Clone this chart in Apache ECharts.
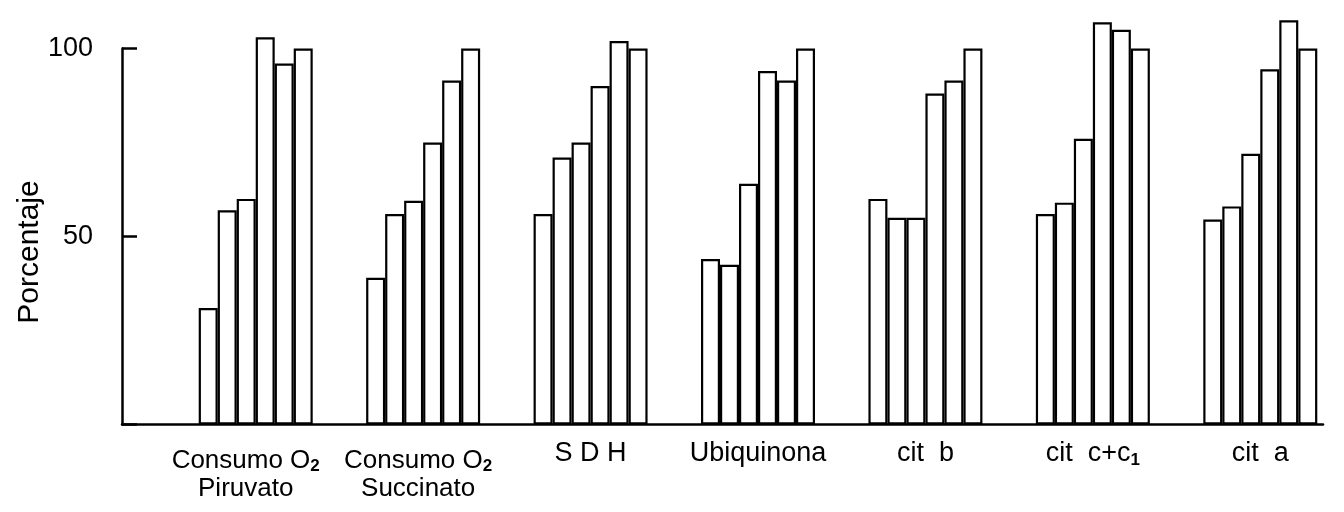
<!DOCTYPE html>
<html>
<head>
<meta charset="utf-8">
<script src="https://cdn.jsdelivr.net/npm/echarts@6/dist/echarts.min.js"></script>
<style>
  html, body { margin: 0; padding: 0; background: #fff; }
  #chart { width: 1344px; height: 512px; }
</style>
</head>
<body>
<div id="chart"></div>
<script>
// ---- data ----
var categories = ['Consumo O{s|2}\nPiruvato', 'Consumo O{s|2}\nSuccinato', 'S D H', 'Ubiquinona', 'cit  b', 'cit  c+c{s|1}', 'cit  a'];
var bar1 = [31, 39, 56, 44, 60, 56, 54.5];
var bar2 = [57, 56, 71, 42.5, 55, 59, 58];
var bar3 = [60, 59.5, 75, 64, 55, 76, 72];
var bar4 = [103, 75, 90, 94, 88, 107, 94.5];
var bar5 = [96, 91.5, 102, 91.5, 91.5, 105, 107.5];
var bar6 = [100, 100, 100, 100, 100, 100, 100];
var yTicks = [0, 50, 100];
var yName = 'Porcentaje';

var seriesData = [bar1, bar2, bar3, bar4, bar5, bar6];
var FONT = "'Liberation Sans', Arial, sans-serif";

// label styling (two-line labels sit a little lower)
var twoLineStyle = [
  { fontSize: 26, lineHeight: 28, padding: [8, 20, 0, 0] },
  { fontSize: 26, lineHeight: 28, padding: [8, 10, 0, 0] }
];
var categoryData = categories.map(function (c, i) {
  return twoLineStyle[i] ? { value: c, textStyle: twoLineStyle[i] } : c;
});

var chart = echarts.init(document.getElementById('chart'), null, { renderer: 'canvas' });

var series = seriesData.map(function (d, i) {
  return {
    name: 'Barra ' + (i + 1),
    type: 'bar',
    xAxisIndex: 0,
    yAxisIndex: 0,
    data: d,
    barWidth: 19,
    barGap: '0%',
    clip: false,
    z: 3,
    itemStyle: { color: '#ffffff', borderColor: '#000000', borderWidth: 2.2 },
    emphasis: { disabled: true }
  };
});

var option = {
  animation: false,
  backgroundColor: '#ffffff',
  grid: [
    { left: 172, right: -6, top: 48.5, bottom: 87.5 },
    { left: 122, right: 21, top: 48.5, bottom: 87.5 }
  ],
  xAxis: [
    {
      type: 'category',
      gridIndex: 0,
      data: categoryData,
      axisLine: { show: false },
      axisTick: { show: false },
      axisLabel: {
        interval: 0,
        margin: 14,
        color: '#000',
        fontFamily: FONT,
        fontSize: 27,
        lineHeight: 30,
        rich: {
          s: {
            fontFamily: FONT,
            fontSize: 17,
            fontWeight: 'bold',
            color: '#000',
            lineHeight: 18,
            verticalAlign: 'bottom'
          }
        }
      }
    },
    {
      type: 'value',
      gridIndex: 1,
      min: 0,
      max: 1,
      axisLine: { show: true, lineStyle: { color: '#000', width: 2.5 } },
      axisTick: { show: false },
      axisLabel: { show: false },
      splitLine: { show: false }
    }
  ],
  yAxis: [
    {
      type: 'value',
      gridIndex: 0,
      min: yTicks[0],
      max: yTicks[yTicks.length - 1],
      interval: 50,
      show: false
    },
    {
      type: 'value',
      gridIndex: 1,
      min: yTicks[0],
      max: yTicks[yTicks.length - 1],
      interval: 50,
      name: yName,
      nameLocation: 'middle',
      nameRotate: 90,
      nameGap: 77,
      nameMoveOverlap: false,
      nameTextStyle: {
        color: '#000',
        fontFamily: FONT,
        fontSize: 30,
        padding: [0, 31, 0, 0]
      },
      axisLine: { show: true, lineStyle: { color: '#000', width: 2.5 } },
      axisTick: { show: true, inside: true, length: 15, lineStyle: { color: '#000', width: 2.5 } },
      axisLabel: {
        margin: 29,
        color: '#000',
        fontFamily: FONT,
        fontSize: 27,
        formatter: function (v) { return v === 0 ? '' : String(v); }
      },
      splitLine: { show: false }
    }
  ],
  series: series
};

chart.setOption(option);
</script>
</body>
</html>
